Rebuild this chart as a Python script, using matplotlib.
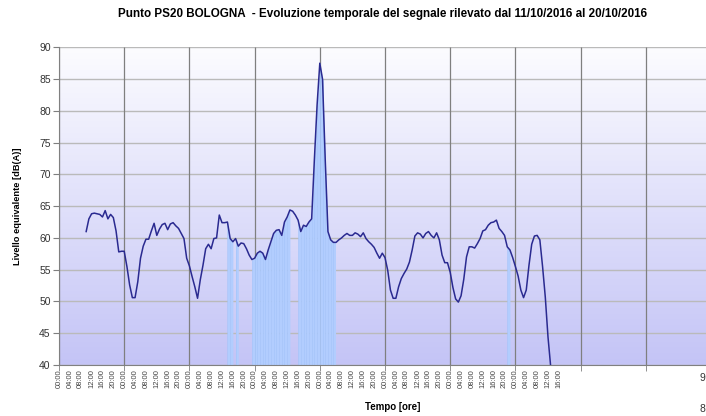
import numpy as np
import matplotlib.pyplot as plt
from matplotlib.colors import LinearSegmentedColormap

plt.rcParams['font.family'] = ['Liberation Sans', 'DejaVu Sans']

# hourly Leq readings, first one on 11/10 at 10:00
start_hour = 10
day0 = [61.0, 63.0, 63.8, 63.9, 63.8, 63.7, 63.3, 64.3, 63.0, 63.7, 63.2, 61.1, 57.8, 57.9]
day1 = [57.9, 55.5, 52.6, 50.6, 50.6, 53.1, 56.8, 58.7, 59.8, 59.8, 61.1, 62.3,
        60.4, 61.4, 62.1, 62.3, 61.3, 62.2, 62.4, 61.9, 61.5, 60.7, 59.9, 56.8]
day2 = [55.6, 53.9, 52.3, 50.5, 53.4, 55.7, 58.3, 59.0, 58.3, 59.9, 60.0, 63.6,
        62.4, 62.4, 62.5, 59.9, 59.4, 59.9, 58.7, 59.2, 59.1, 58.3, 57.3, 56.6]
day3 = [56.8, 57.6, 57.9, 57.6, 56.6, 58.1, 59.4, 60.7, 61.2, 61.3, 60.4, 62.5,
        63.3, 64.4, 64.2, 63.6, 62.8, 61.0, 62.0, 61.8, 62.5, 63.0, 72.3, 80.9]
day4 = [87.5, 85.0, 72.3, 61.0, 59.7, 59.3, 59.3, 59.7, 60.0, 60.4, 60.7, 60.4,
        60.4, 60.8, 60.6, 60.2, 60.8, 59.9, 59.4, 59.0, 58.5, 57.6, 56.8, 57.6]
day5 = [56.9, 54.9, 51.8, 50.5, 50.5, 52.3, 53.6, 54.4, 55.1, 56.2, 58.1, 60.3,
        60.8, 60.6, 60.0, 60.7, 61.0, 60.4, 60.0, 60.8, 59.7, 57.3, 56.1, 56.1]
day6 = [54.6, 52.2, 50.4, 49.9, 50.9, 53.5, 57.0, 58.6, 58.6, 58.4, 59.1, 59.9,
        61.1, 61.3, 62.0, 62.4, 62.5, 62.8, 61.5, 61.0, 60.4, 58.6, 58.1, 56.9]
day7 = [55.5, 54.0, 51.8, 50.6, 51.8, 55.7, 59.0, 60.3, 60.4, 59.7, 55.5, 50.7, 44.4, 39.7]

livello = np.array(day0 + day1 + day2 + day3 + day4 + day5 + day6 + day7)
ore = start_hour + np.arange(len(livello))

# hours highlighted in light blue (start of each hourly interval)
ore_evidenziate = [62, 63, 65] + list(range(71, 85)) + list(range(88, 102)) + [165]

n_giorni = 10
tick_ore = np.arange(0, 7 * 24 + 17, 4)
tick_lab = ['%02d:00' % (h % 24) for h in tick_ore]

titolo = 'Punto PS20 BOLOGNA  - Evoluzione temporale del segnale rilevato dal 11/10/2016 al 20/10/2016'

fig = plt.figure(figsize=(7.06, 4.16), dpi=100)
ax = fig.add_axes([59 / 706, 51 / 416, 652 / 706, 317.7 / 416])

# background gradient
grad = np.linspace(0, 1, 256).reshape(-1, 1)
cmap = LinearSegmentedColormap.from_list('bg', ['#fcfcff', '#c4c4f6'])
ax.imshow(grad, extent=[0, n_giorni * 24, 40, 90], aspect='auto', cmap=cmap,
          origin='upper', zorder=0)

ax.set_yticks(np.arange(40, 91, 5))
ax.grid(axis='y', color='#bababa', lw=1.0, zorder=1)
ax.vlines(np.arange(0, n_giorni * 24 + 1, 24), 40, 90, color='#7f7f7f', lw=0.9, zorder=1.6)

for h in ore_evidenziate:
    i = h - start_hour
    ax.fill_between(ore[i:i + 2], 40, livello[i:i + 2], color='#b2cdfe', lw=0, zorder=2)
    ax.vlines(ore[i], 40, livello[i], color='#a2c4fa', lw=0.4, zorder=2.1)

ax.plot(ore, livello, color='#2a2a90', lw=1.1, zorder=3)

ax.set_xlim(0, n_giorni * 24)
ax.set_ylim(40, 90)

ax.set_xticks(tick_ore)
ax.set_xticklabels(tick_lab, rotation=90)
ax.set_xticks(np.arange(0, n_giorni * 24 + 1, 24), minor=True)
ax.xaxis.remove_overlapping_locs = False
ax.tick_params(axis='x', which='major', length=0, labelsize=5.5, labelcolor='#444444', pad=3)
ax.tick_params(axis='x', which='minor', length=4, color='#7f7f7f', direction='out')
ax.tick_params(axis='y', length=4, color='#7f7f7f', labelsize=7.5, labelcolor='#333333', pad=2)

for s in ['top', 'right']:
    ax.spines[s].set_visible(False)
ax.spines['left'].set_color('#808080')
ax.spines['bottom'].set_color('#808080')

ax.set_ylabel('Livello equivalente [dB(A)]', fontsize=6.7, fontweight='bold')
ax.yaxis.set_label_coords(-37 / 652, 0.5)

fig.text(393 / 706, 1 - 407 / 416, 'Tempo [ore]', ha='center', va='center',
         fontsize=7, fontweight='bold')
fig.text(383 / 706, 1 - 14 / 416, titolo, ha='center', va='center',
         fontsize=8.4, fontweight='bold')

# pieces of a cropped right-hand label
fig.text(699 / 706, 1 - 378 / 416, '9', ha='left', va='center', fontsize=7.5, color='#333333')
fig.text(699 / 706, 1 - 409 / 416, '8', ha='left', va='center', fontsize=7.5, color='#333333')

fig.savefig('out.png', dpi=100)
